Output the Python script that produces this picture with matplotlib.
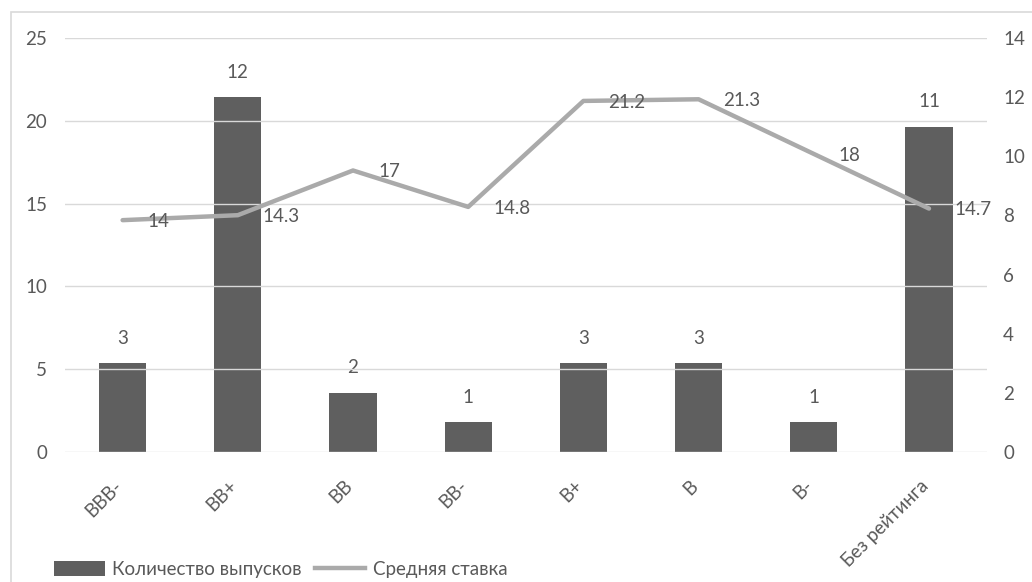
import matplotlib.pyplot as plt
from matplotlib.patches import Rectangle, Patch
from matplotlib.lines import Line2D

plt.rcParams['font.family'] = ['Lato', 'DejaVu Sans']

ratings = ['BBB-', 'BB+', 'BB', 'BB-', 'B+', 'B', 'B-', 'Без рейтинга']
issues = [3, 12, 2, 1, 3, 3, 1, 11]
avg_rate = [14, 14.3, 17, 14.8, 21.2, 21.3, 18, 14.7]
rate_labels = ['14', '14.3', '17', '14.8', '21.2', '21.3', '18', '14.7']

text_c = '#595959'
bar_c = '#5f5f5f'
line_c = '#aaaaaa'
grid_c = '#d9d9d9'
fs = 13.5

fig = plt.figure(figsize=(10.32, 5.82), dpi=100)
fig.patches.append(Rectangle((0.0106, -0.05), 1.1, 1.05 - 12 / 582, transform=fig.transFigure,
                             fill=False, edgecolor='#d9d9d9', linewidth=1.2))
ax = fig.add_axes([0.063, 0.2234, 0.893, 0.7113])
ax2 = ax.twinx()
x = list(range(len(ratings)))

# bars on right axis, line on left axis
ax2.bar(x, issues, width=0.41, color=bar_c, zorder=2)
for xi, v in zip(x, issues):
    ax2.annotate(str(v), (xi, v), xytext=(0, 18), textcoords='offset points',
                 ha='center', va='center', fontsize=fs, color=text_c)

ax.set_zorder(ax2.get_zorder() + 1)
ax.patch.set_visible(False)
ax.plot(x, avg_rate, color=line_c, linewidth=3.2, solid_capstyle='round', zorder=3)
for xi, v, lab in zip(x, avg_rate, rate_labels):
    ax.annotate(lab, (xi, v), xytext=(18, -1), textcoords='offset points',
                ha='left', va='center', fontsize=fs, color=text_c)

ax.set_xlim(-0.5, len(ratings) - 0.5)
ax.set_ylim(0, 25)
ax.set_yticks(range(0, 26, 5))
ax2.set_ylim(0, 14)
ax2.set_yticks(range(0, 15, 2))
ax.grid(axis='y', color=grid_c, linewidth=1)
ax.set_axisbelow(True)

# category labels, rotated like Excel's
ax.set_xticks(x)
ax.set_xticklabels([])
for xi, name in zip(x, ratings):
    ax.annotate(name, (xi, 0), xycoords=ax.get_xaxis_transform(), xytext=(-7, -18),
                textcoords='offset points', rotation=45, ha='right', va='top',
                rotation_mode='anchor', fontsize=fs, color=text_c, annotation_clip=False)

for a in (ax, ax2):
    for s in a.spines.values():
        s.set_visible(False)
    a.tick_params(length=0, labelsize=fs, labelcolor=text_c)
ax.tick_params(axis='y', pad=13)
ax2.tick_params(axis='y', pad=12)

handles = [Patch(facecolor=bar_c), Line2D([0], [0], color=line_c, linewidth=3.2)]
fig.legend(handles, ['Количество выпусков', 'Средняя ставка'], loc='lower left',
           bbox_to_anchor=(0.036, -0.022), ncol=2, frameon=False, fontsize=fs,
           handlelength=2.7, handleheight=0.8, handletextpad=0.4, columnspacing=0.7,
           labelcolor=text_c)

fig.savefig('out.png', dpi=100)
